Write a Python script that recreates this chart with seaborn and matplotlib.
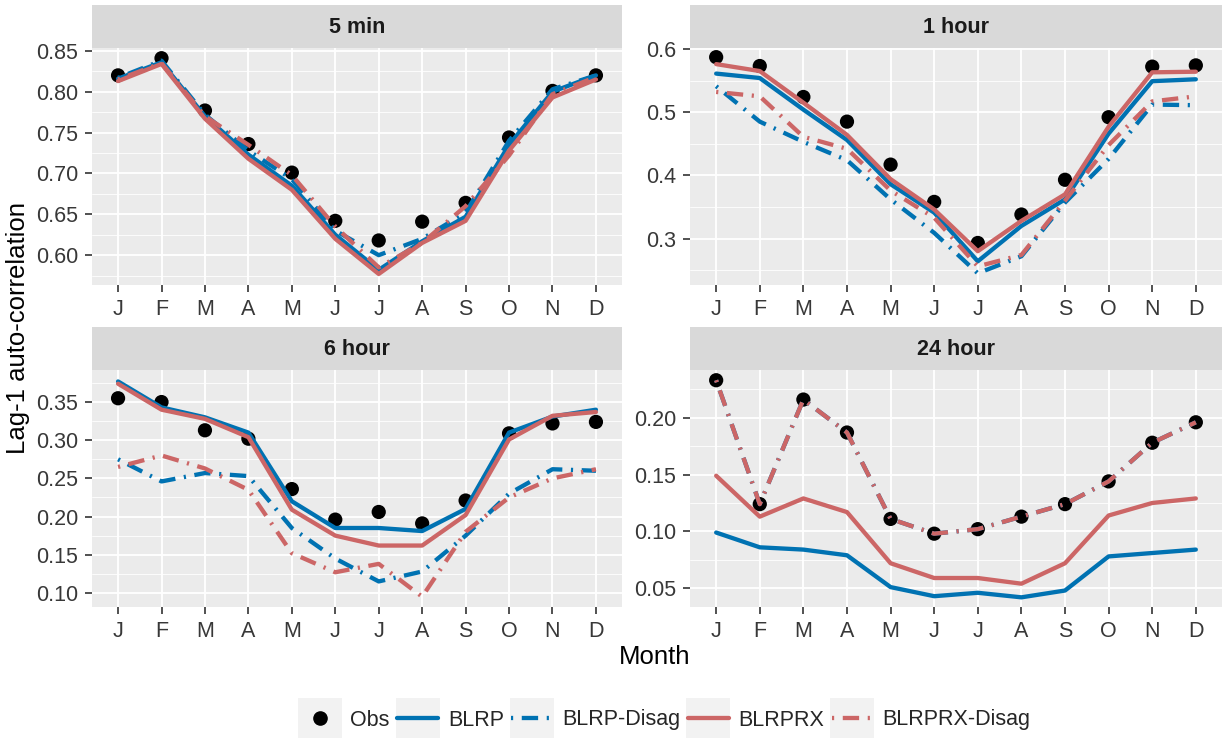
import numpy as np
import pandas as pd
import matplotlib
matplotlib.use("Agg")
import matplotlib.pyplot as plt
from matplotlib.lines import Line2D
from matplotlib.patches import Rectangle
from matplotlib.legend_handler import HandlerLine2D
from matplotlib.ticker import AutoMinorLocator, FixedLocator
import seaborn as sns

months = ["J", "F", "M", "A", "M", "J", "J", "A", "S", "O", "N", "D"]
panels = ["5 min", "1 hour", "6 hour", "24 hour"]
models = ["BLRP", "BLRP-Disag", "BLRPRX", "BLRPRX-Disag"]

obs_5min = [0.820, 0.841, 0.777, 0.736, 0.701, 0.642, 0.618, 0.641, 0.664, 0.744, 0.801, 0.820]
blrp_5min = [0.816, 0.836, 0.770, 0.723, 0.685, 0.625, 0.582, 0.617, 0.647, 0.735, 0.800, 0.820]
blrpd_5min = [0.817, 0.838, 0.772, 0.728, 0.693, 0.630, 0.600, 0.620, 0.652, 0.740, 0.803, 0.820]
blrprx_5min = [0.813, 0.834, 0.767, 0.718, 0.680, 0.620, 0.577, 0.615, 0.642, 0.728, 0.793, 0.815]
blrprxd_5min = [0.815, 0.835, 0.770, 0.735, 0.698, 0.635, 0.585, 0.615, 0.660, 0.722, 0.797, 0.818]

obs_1h = [0.587, 0.573, 0.524, 0.485, 0.417, 0.358, 0.293, 0.338, 0.393, 0.492, 0.572, 0.574]
blrp_1h = [0.561, 0.554, 0.504, 0.456, 0.386, 0.341, 0.264, 0.320, 0.362, 0.466, 0.549, 0.552]
blrpd_1h = [0.541, 0.485, 0.453, 0.424, 0.362, 0.309, 0.245, 0.272, 0.357, 0.426, 0.512, 0.511]
blrprx_1h = [0.576, 0.565, 0.515, 0.464, 0.394, 0.346, 0.280, 0.328, 0.370, 0.477, 0.563, 0.564]
blrprxd_1h = [0.532, 0.525, 0.461, 0.442, 0.376, 0.333, 0.256, 0.274, 0.360, 0.448, 0.517, 0.525]

obs_6h = [0.355, 0.350, 0.313, 0.302, 0.236, 0.196, 0.206, 0.191, 0.221, 0.309, 0.322, 0.324]
blrp_6h = [0.377, 0.343, 0.330, 0.310, 0.220, 0.185, 0.185, 0.181, 0.210, 0.310, 0.331, 0.340]
blrpd_6h = [0.275, 0.246, 0.257, 0.253, 0.185, 0.145, 0.115, 0.128, 0.175, 0.230, 0.262, 0.260]
blrprx_6h = [0.374, 0.340, 0.328, 0.304, 0.209, 0.175, 0.162, 0.162, 0.202, 0.301, 0.332, 0.337]
blrprxd_6h = [0.265, 0.280, 0.263, 0.235, 0.152, 0.127, 0.138, 0.095, 0.180, 0.225, 0.250, 0.262]

obs_24h = [0.233, 0.124, 0.216, 0.187, 0.111, 0.098, 0.102, 0.113, 0.124, 0.144, 0.178, 0.196]
blrp_24h = [0.099, 0.086, 0.084, 0.079, 0.051, 0.043, 0.046, 0.042, 0.048, 0.078, 0.081, 0.084]
blrpd_24h = [0.233, 0.124, 0.216, 0.187, 0.111, 0.098, 0.102, 0.113, 0.124, 0.144, 0.178, 0.196]
blrprx_24h = [0.149, 0.113, 0.129, 0.117, 0.072, 0.059, 0.059, 0.054, 0.072, 0.114, 0.125, 0.129]
blrprxd_24h = [0.233, 0.124, 0.216, 0.187, 0.111, 0.098, 0.102, 0.113, 0.124, 0.144, 0.178, 0.196]

obs = {"5 min": obs_5min, "1 hour": obs_1h, "6 hour": obs_6h, "24 hour": obs_24h}
sims = {
    "5 min": [blrp_5min, blrpd_5min, blrprx_5min, blrprxd_5min],
    "1 hour": [blrp_1h, blrpd_1h, blrprx_1h, blrprxd_1h],
    "6 hour": [blrp_6h, blrpd_6h, blrprx_6h, blrprxd_6h],
    "24 hour": [blrp_24h, blrpd_24h, blrprx_24h, blrprxd_24h],
}
yticks = {
    "5 min": [0.60, 0.65, 0.70, 0.75, 0.80, 0.85],
    "1 hour": [0.3, 0.4, 0.5, 0.6],
    "6 hour": [0.10, 0.15, 0.20, 0.25, 0.30, 0.35],
    "24 hour": [0.05, 0.10, 0.15, 0.20],
}
ylims = {"5 min": (0.5635, 0.8535), "1 hour": (0.2265, 0.6015),
         "6 hour": (0.0815, 0.392), "24 hour": (0.0335, 0.242)}
yfmt = {"5 min": "{:.2f}", "1 hour": "{:.1f}", "6 hour": "{:.2f}", "24 hour": "{:.2f}"}

BLUE = "#0072B2"
RED = "#CC6666"
palette = {"BLRP": BLUE, "BLRP-Disag": BLUE, "BLRPRX": RED, "BLRPRX-Disag": RED}
dd = (0.5, 2.0, 3.8, 2.0)
dashes = {"BLRP": "", "BLRP-Disag": dd, "BLRPRX": "", "BLRPRX-Disag": dd}
LW = 3.1
TXT = "#383838"

sns.set_theme(style="darkgrid")
plt.rcParams["font.family"] = ["Liberation Sans", "DejaVu Sans"]

W, H = 1225, 740
fig = plt.figure(figsize=(W / 100, H / 100), dpi=100)

boxes = {
    "5 min": (92, 622, 48, 285, 5),
    "1 hour": (690, 1222, 48, 285, 5),
    "6 hour": (92, 622, 370, 607, 327),
    "24 hour": (690, 1222, 370, 607, 327),
}

x = np.arange(12)
for p in panels:
    x0, x1, y0, y1, st = boxes[p]
    ax = fig.add_axes([x0 / W, 1 - y1 / H, (x1 - x0) / W, (y1 - y0) / H])
    ax.set_facecolor("#EBEBEB")
    sax = fig.add_axes([x0 / W, 1 - y0 / H, (x1 - x0) / W, (y0 - st) / H])
    sax.set_facecolor("#D9D9D9")
    sax.set_xticks([]); sax.set_yticks([])
    for s in sax.spines.values():
        s.set_visible(False)
    sax.grid(False)
    sax.text(0.5, 0.47, p, ha="center", va="center", fontsize=15.5,
             fontweight="bold", color="#1A1A1A", transform=sax.transAxes)

    dfo = pd.DataFrame({"m": x, "v": obs[p]})
    sns.scatterplot(data=dfo, x="m", y="v", ax=ax, color="black", s=105,
                    edgecolor="none", zorder=2, legend=False)
    rows = []
    for mname, vals in zip(models, sims[p]):
        for i, v in enumerate(vals):
            rows.append({"m": i, "v": v, "model": mname})
    dfl = pd.DataFrame(rows)
    sns.lineplot(data=dfl, x="m", y="v", hue="model", style="model",
                 hue_order=models, style_order=models, palette=palette,
                 dashes=dashes, linewidth=LW, ax=ax, legend=False, zorder=3)

    ax.set_xlim(-0.6, 11.6)
    ax.set_ylim(*ylims[p])
    ax.set_xticks(x)
    ax.set_xticklabels(months)
    ax.yaxis.set_major_locator(FixedLocator(yticks[p]))
    ax.set_yticklabels([yfmt[p].format(t) for t in yticks[p]])
    ax.yaxis.set_minor_locator(AutoMinorLocator(2))
    ax.grid(which="major", color="white", linewidth=1.3)
    ax.grid(which="minor", axis="y", color="white", linewidth=0.6)
    ax.tick_params(axis="both", which="major", length=5, width=1.2,
                   color="#333333", labelsize=15.5, labelcolor=TXT,
                   pad=5, direction="out", bottom=True, left=True)
    ax.tick_params(axis="y", which="minor", length=0)
    for s in ax.spines.values():
        s.set_visible(False)
    ax.set_xlabel("")
    ax.set_ylabel("")

fig.text(655 / W, 1 - 657 / H, "Month", ha="center", va="center", fontsize=18.5,
         color="black")
fig.text(18 / W, 1 - 328 / H, "Lag-1 auto-correlation", ha="center", va="center",
         rotation=90, fontsize=18.5, color="black")


class KeyHandler(HandlerLine2D):
    def create_artists(self, legend, orig_handle, xdescent, ydescent,
                       width, height, fontsize, trans):
        arts = super().create_artists(legend, orig_handle, xdescent, ydescent,
                                      width, height, fontsize, trans)
        kh = 28.8  # points (~40 px)
        kw = width + 2
        cy = -ydescent + height / 2
        rect = Rectangle((-xdescent - 1, cy - kh / 2), kw, kh,
                         facecolor="#F2F2F2", edgecolor="none", transform=trans)
        return [rect] + list(arts)


handles = [
    Line2D([], [], color="black", marker="o", linestyle="none", markersize=9.5),
    Line2D([], [], color=BLUE, linewidth=LW),
    Line2D([], [], color=BLUE, linewidth=LW, dashes=dd),
    Line2D([], [], color=RED, linewidth=LW),
    Line2D([], [], color=RED, linewidth=LW, dashes=dd),
]
labels = ["Obs", "BLRP", "BLRP-Disag", "BLRPRX", "BLRPRX-Disag"]
leg = fig.legend(handles, labels, loc="center", bbox_to_anchor=(665 / W, 1 - 720 / H),
                 ncol=5, frameon=False, fontsize=15.5, handlelength=1.9,
                 handletextpad=0.45, columnspacing=0.35,
                 handler_map={Line2D: KeyHandler()})

fig.savefig("out.png", dpi=100, facecolor="white")
